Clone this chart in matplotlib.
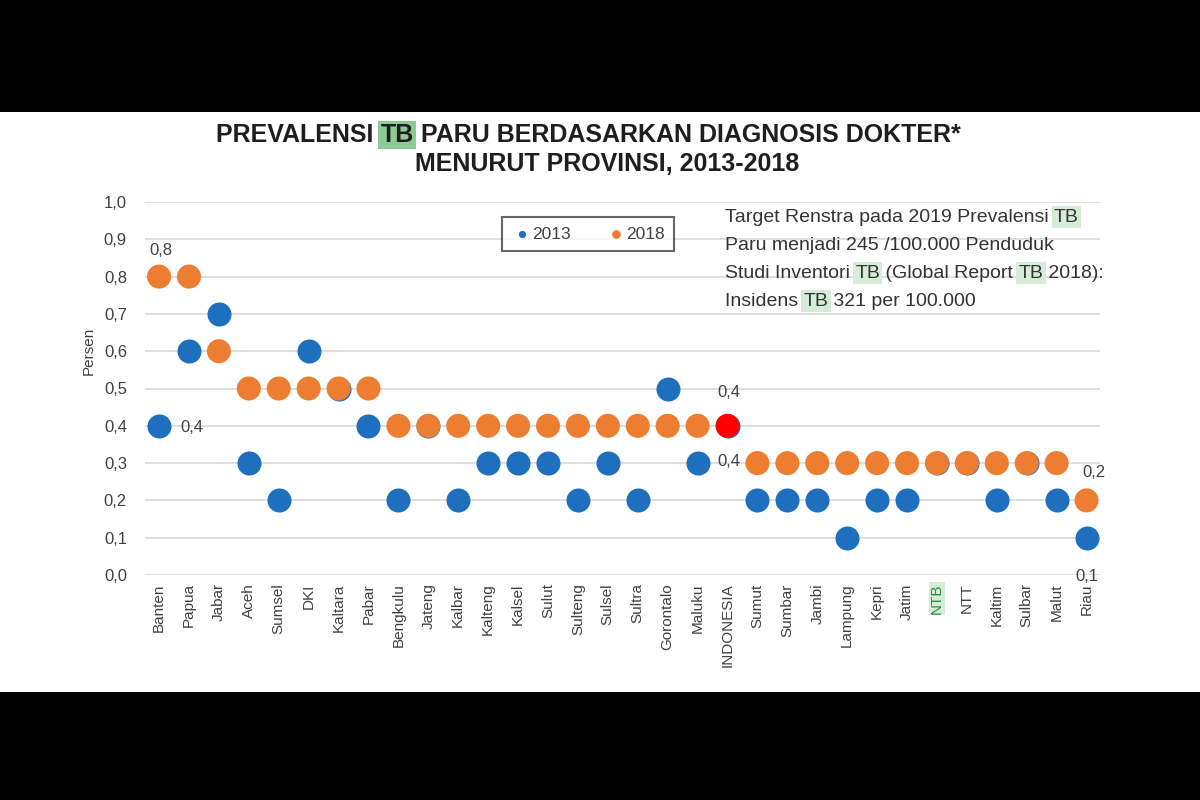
import numpy as np
import matplotlib.pyplot as plt
from matplotlib.patches import Rectangle

plt.rcParams['font.family'] = ['Liberation Sans', 'DejaVu Sans']

# Data
provinsi = ["Banten", "Papua", "Jabar", "Aceh", "Sumsel", "DKI", "Kaltara", "Pabar",
            "Bengkulu", "Jateng", "Kalbar", "Kalteng", "Kalsel", "Sulut", "Sulteng",
            "Sulsel", "Sultra", "Gorontalo", "Maluku", "INDONESIA", "Sumut", "Sumbar",
            "Jambi", "Lampung", "Kepri", "Jatim", "NTB", "NTT", "Kaltim", "Sulbar",
            "Malut", "Riau"]
nilai_2013 = [0.4, 0.6, 0.7, 0.3, 0.2, 0.6, 0.5, 0.4, 0.2, 0.4, 0.2, 0.3, 0.3, 0.3, 0.2,
              0.3, 0.2, 0.5, 0.3, 0.4, 0.2, 0.2, 0.2, 0.1, 0.2, 0.2, 0.3, 0.3, 0.2, 0.3,
              0.2, 0.1]
nilai_2018 = [0.8, 0.8, 0.6, 0.5, 0.5, 0.5, 0.5, 0.5, 0.4, 0.4, 0.4, 0.4, 0.4, 0.4, 0.4,
              0.4, 0.4, 0.4, 0.4, 0.4, 0.3, 0.3, 0.3, 0.3, 0.3, 0.3, 0.3, 0.3, 0.3, 0.3,
              0.3, 0.2]
y_ticks = [0.0, 0.1, 0.2, 0.3, 0.4, 0.5, 0.6, 0.7, 0.8, 0.9, 1.0]

biru = "#1F6FBF"
oranye = "#ED7D31"
merah = "#FF0000"
hijau_judul = "#8CCB98"
hijau_muda = "#D5EDD8"
abu_teks = "#404040"

fig = plt.figure(figsize=(12, 8), dpi=100)
fig.patch.set_facecolor("black")
# area putih di tengah (bagian atas dan bawah hitam)
fig.patches.append(Rectangle((0, 108 / 800), 1, 580 / 800, transform=fig.transFigure,
                             facecolor="white", edgecolor="none", zorder=-5))

ax = fig.add_axes([145 / 1200, 1 - 575 / 800, 955 / 1200, 373 / 800])
ax.set_facecolor("white")

x = np.arange(len(provinsi))
idx_indo = provinsi.index("INDONESIA")

ax.scatter(x, nilai_2013, s=300, color=biru, zorder=3, label="2013", linewidths=0)
warna_2018 = [merah if i == idx_indo else oranye for i in range(len(provinsi))]
ax.scatter(x, nilai_2018, s=300, color=warna_2018, zorder=4, linewidths=0)
# handle legenda 2018 (oranye)
ax.scatter([], [], s=300, color=oranye, label="2018")

ax.set_xlim(-0.47, len(provinsi) - 0.55)
ax.set_ylim(0, 1.0)
ax.set_yticks(y_ticks)
ax.set_yticklabels([f"{v:.1f}".replace(".", ",") for v in y_ticks], fontsize=12, color=abu_teks)
ax.set_xticks(x)
ax.set_xticklabels(provinsi, rotation=90, fontsize=11, color=abu_teks)
for lbl in ax.get_xticklabels():
    if lbl.get_text() == "NTB":
        lbl.set_color("#2E8B3E")
        lbl.set_bbox(dict(facecolor=hijau_muda, edgecolor="none", pad=1))
ax.tick_params(axis="x", length=0, pad=6)
ax.tick_params(axis="y", length=0, pad=13)
ax.grid(axis="y", color="#D9D9D9", linewidth=1.2)
ax.set_axisbelow(True)
for s in ax.spines.values():
    s.set_visible(False)
ax.set_ylabel("Persen", fontsize=11, color=abu_teks)
ax.yaxis.set_label_coords(-0.052, 0.6)

# label nilai
lab = dict(fontsize=12, color=abu_teks, ha="center", va="center")
ax.text(0.05, 0.87, "0,8", **lab)
ax.text(1.1, 0.395, "0,4", **lab)
ax.text(idx_indo + 0.05, 0.49, "0,4", **lab)
ax.text(idx_indo + 0.05, 0.305, "0,4", **lab)
ax.text(31.25, 0.275, "0,2", **lab)
ax.text(31.0, -0.005, "0,1", **lab)

leg = ax.legend(loc="center", bbox_to_anchor=(588 / 1200, 1 - 234 / 800),
                bbox_transform=fig.transFigure, ncol=2, markerscale=0.3, frameon=True,
                fancybox=False, edgecolor=abu_teks, fontsize=12.5, handletextpad=0.0,
                columnspacing=2.0, borderpad=0.55, handlelength=1.2,
                borderaxespad=0)
leg.get_frame().set_linewidth(1.5)
for t in leg.get_texts():
    t.set_color(abu_teks)


def teks_berantai(x0, y0, bagian, **kw):
    """Tulis teks bersambung; bagian 'TB' diberi latar hijau."""
    prev = fig.text(x0, y0, bagian[0][0], va="center", ha="left", **kw)
    if bagian[0][1]:
        prev.set_bbox(dict(facecolor=bagian[0][1], edgecolor="none", pad=1.5))
    for s, bg in bagian[1:]:
        prev = ax.annotate(s, xy=(1, 0.5), xycoords=prev, va="center", ha="left",
                           annotation_clip=False, **kw)
        if bg:
            prev.set_bbox(dict(facecolor=bg, edgecolor="none", pad=1.5))
    return prev


judul = dict(fontsize=18, fontweight="bold", color="#1E1E1E")
teks_berantai(216 / 1200, 1 - 135 / 800,
              [("PREVALENSI ", None), ("TB", hijau_judul),
               (" PARU BERDASARKAN DIAGNOSIS DOKTER*", None)], **judul)
fig.text(607 / 1200, 1 - 164 / 800, "MENURUT PROVINSI, 2013-2018", va="center", ha="center", **judul)

info = dict(fontsize=14, color="#333333")
baris = [
    [("Target Renstra pada 2019 Prevalensi ", None), ("TB", hijau_muda)],
    [("Paru menjadi 245 /100.000 Penduduk", None)],
    [("Studi Inventori ", None), ("TB", hijau_muda), (" (Global Report ", None),
     ("TB", hijau_muda), (" 2018):", None)],
    [("Insidens ", None), ("TB", hijau_muda), (" 321 per 100.000", None)],
]
for i, b in enumerate(baris):
    teks_berantai(725 / 1200, 1 - (217 + 28 * i) / 800, b, **info)

fig.savefig("out.png", dpi=100, facecolor=fig.get_facecolor())
